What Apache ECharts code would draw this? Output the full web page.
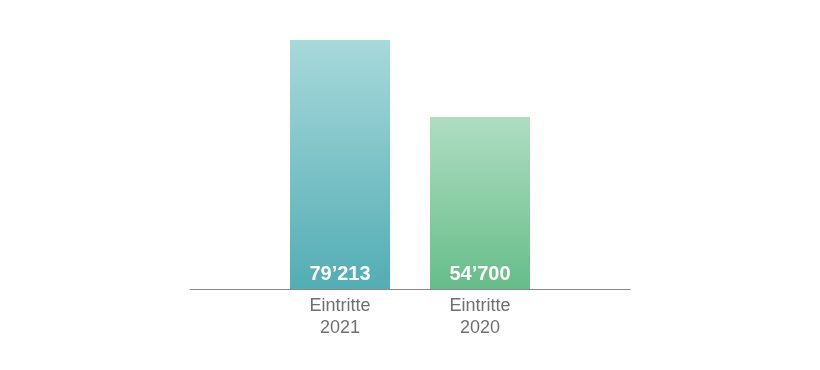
<!DOCTYPE html>
<html><head><meta charset="utf-8">
<script src="https://cdn.jsdelivr.net/npm/echarts@6/dist/echarts.min.js"></script>
<style>html,body{margin:0;padding:0;background:#fff}#c{width:820px;height:370px}</style>
</head><body><div id="c"></div>
<script>
var categories = ['Eintritte\n2021', 'Eintritte\n2020'];
var values = [79213, 54700];
var topColors = ['#a8d9db', '#b0ddc2'];
var bottomColors = ['#52adb4', '#66bd89'];

function fmt(v){ return String(v).replace(/\B(?=(\d{3})+(?!\d))/g, '\u2019'); }

var chart = echarts.init(document.getElementById('c'), null, {renderer:'canvas'});
chart.setOption({
  animation:false,
  backgroundColor:'#ffffff',
  grid:[
    {left:270, right:270, top:40, bottom:81},
    {left:190, right:190, top:40, bottom:81}
  ],
  xAxis:[
    {type:'category', gridIndex:0, data:categories,
     axisLine:{show:false}, axisTick:{show:false},
     axisLabel:{color:'#707070', fontSize:18, lineHeight:22, margin:6, fontFamily:'Liberation Sans, Arial, sans-serif'}},
    {type:'value', gridIndex:1, min:0, max:1,
     axisLine:{show:true, lineStyle:{color:'#8a8a8a', width:1}}, axisTick:{show:false},
     axisLabel:{show:false}, splitLine:{show:false}}
  ],
  yAxis:[
    {type:'value', gridIndex:0, min:0, max:'dataMax', show:false, splitLine:{show:false}},
    {type:'value', gridIndex:1, min:0, max:1, show:false, splitLine:{show:false}}
  ],
  series:[{
    type:'bar', xAxisIndex:0, yAxisIndex:0, barWidth:100,
    data: values.map(function(v,i){
      return {value:v, itemStyle:{color:new echarts.graphic.LinearGradient(0,0,0,1,[
        {offset:0,color:topColors[i]},{offset:1,color:bottomColors[i]}])}};
    }),
    label:{show:true, position:'insideBottom', distance:5, color:'#ffffff', fontSize:20, fontWeight:'bold',
      fontFamily:'Liberation Sans, Arial, sans-serif',
      formatter:function(p){return fmt(p.value);}}
  }]
});
</script></body></html>
